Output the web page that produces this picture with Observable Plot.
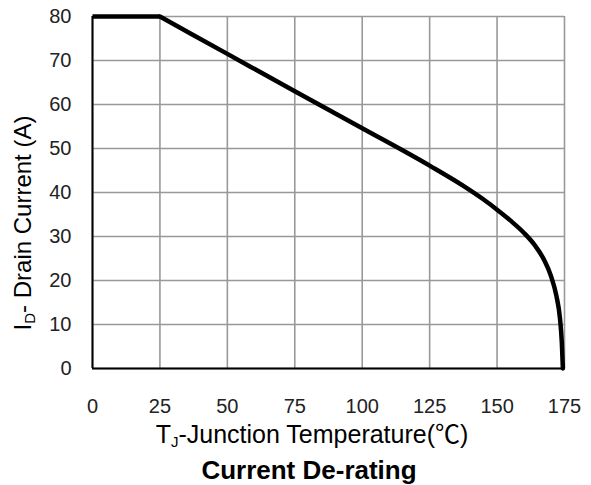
<!DOCTYPE html>
<html>
<head>
<meta charset="utf-8">
<script src="https://cdn.jsdelivr.net/npm/d3@7"></script>
<script src="https://cdn.jsdelivr.net/npm/@observablehq/plot@0.6"></script>
<style>
body { margin: 0; background: #fff; font-family: "Liberation Sans", Arial, sans-serif; }
#title { width: 591px; box-sizing: border-box; padding-left: 27px; text-align: center; font-weight: bold; font-size: 26px; line-height: 28px; margin-top: 4px; color: #000; }
</style>
</head>
<body>
<div id="chart"></div>
<div id="title">Current De-rating</div>
<script>
const flatTemperature = [0, 25];
const flatCurrent     = [80, 80];
const derateTemperature = [25, 50, 75, 100, 125, 137.5, 145, 150, 155, 160, 164, 167.5, 170, 172, 173.3, 174, 174.4];
const derateCurrent     = [80, 71.5, 63, 54.6, 46.1, 41.5, 38.4, 36.1, 33.6, 30.8, 28, 24.6, 21, 16.5, 11.5, 6, 0];
const xTicks = [0, 25, 50, 75, 100, 125, 150, 175];
const yTicks = [0, 10, 20, 30, 40, 50, 60, 70, 80];

const flat = flatTemperature.map((t, k) => ({t, i: flatCurrent[k]}));
const derate = derateTemperature.map((t, k) => ({t, i: derateCurrent[k]}));

const plot = Plot.plot({
  width: 591,
  height: 452,
  marginLeft: 92,
  marginRight: 27,
  marginTop: 16,
  marginBottom: 84,
  style: {fontFamily: "Liberation Sans, Arial, sans-serif", fontSize: "20px", background: "#fff"},
  x: {domain: [0, 175], ticks: xTicks, label: null},
  y: {domain: [0, 80], ticks: yTicks, label: null},
  marks: [
    Plot.gridX(xTicks, {stroke: "#999", strokeOpacity: 1, strokeWidth: 1.6}),
    Plot.gridY(yTicks, {stroke: "#999", strokeOpacity: 1, strokeWidth: 1.6}),
    Plot.axisX(xTicks, {tickSize: 0, tickPadding: 30, fill: "#222", fontSize: 20}),
    Plot.axisY(yTicks, {tickSize: 0, tickPadding: 21, fill: "#222", fontSize: 20}),
    Plot.ruleX([0], {stroke: "#000", strokeWidth: 2}),
    Plot.ruleY([0], {stroke: "#000", strokeWidth: 2}),
    Plot.line(flat, {x: "t", y: "i", stroke: "#000", strokeWidth: 4.5, strokeLinecap: "butt"}),
    Plot.line(derate, {x: "t", y: "i", stroke: "#000", strokeWidth: 4.5, strokeLinejoin: "round", curve: "monotone-x"})
  ]
});
document.getElementById("chart").appendChild(plot);

const svg = d3.select(plot);
// x-axis label with subscript
const xl = svg.append("text")
  .attr("x", 312).attr("y", 443)
  .attr("text-anchor", "middle")
  .attr("font-size", 25).attr("fill", "#000")
  .attr("font-family", "Liberation Sans, Arial, sans-serif");
xl.append("tspan").text("T");
xl.append("tspan").attr("font-size", 15).attr("dy", 4).text("J");
xl.append("tspan").attr("dy", -4).text("-Junction Temperature(");
xl.append("tspan").attr("font-family", "Noto Sans CJK SC").text("℃");
xl.append("tspan").text(")");

// y-axis label with subscript
const yl = svg.append("text")
  .attr("transform", "translate(31,223) rotate(-90)")
  .attr("text-anchor", "middle")
  .attr("font-size", 24).attr("fill", "#000")
  .attr("font-family", "Liberation Sans, Arial, sans-serif");
yl.append("tspan").text("I");
yl.append("tspan").attr("font-size", 15).attr("dy", 4).text("D");
yl.append("tspan").attr("dy", -4).text("- Drain Current (A)");
</script>
</body>
</html>
